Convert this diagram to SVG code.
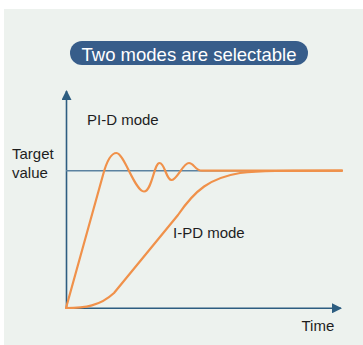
<svg xmlns="http://www.w3.org/2000/svg" width="363" height="345" viewBox="0 0 363 345">
<style>
.lbl{font-family:"Liberation Sans",Arial,sans-serif;font-size:15px;fill:#1e1e1e}
.curve{fill:none;stroke:#f0914a;stroke-width:2.2;stroke-linejoin:round;stroke-linecap:round}
.axis{fill:none;stroke:#2d5d80;stroke-width:1.6}
</style>
<defs>
<marker id="ah" markerWidth="10" markerHeight="10" refX="9" refY="5" orient="auto" markerUnits="userSpaceOnUse">
<path d="M0,0 L10,5 L0,10 Z" fill="#2d5d80"/>
</marker>
</defs>
<rect x="4" y="9" width="359" height="336" fill="#edf2ee"/>
<g id="title">
<rect x="70" y="41" width="238" height="24" rx="12" fill="#375d8a"/>
<text x="189" y="61" text-anchor="middle" style="font-family:'Liberation Sans',Arial,sans-serif;font-size:18.5px;fill:#ffffff">Two modes are selectable</text>
</g>
<g id="connectors">
<line class="axis" x1="66.5" y1="308" x2="66.5" y2="91" stroke="#4d7394" marker-end="url(#ah)"/>
<line class="axis" x1="66" y1="308.3" x2="341" y2="308.3" marker-end="url(#ah)"/>
<line x1="66" y1="170.7" x2="342" y2="170.7" stroke="#5b82a0" stroke-width="1.6"/>
</g>
<g id="pid-curve">
<path class="curve" d="M66,308 L103,175 C107,160 111,153 116.5,153 C124,153 135,191.5 144,191.5 C152,191.5 154,163 159.5,163 C165,163 166,180 171.5,180 C177,180 183,163 189,163 C194,163 195,170.7 202,170.7 L342,170.7"/>
</g>
<g id="ipd-curve">
<path class="curve" d="M66,308 C85,308 100,306 114,293 L178,215 C195,190 210,178 240,173 C260,170.8 280,170.7 342,170.7"/>
</g>
<g id="labels">
<text class="lbl" x="87" y="124.5">PI-D mode</text>
<text class="lbl" x="12" y="159">Target</text>
<text class="lbl" x="12" y="178">value</text>
<text class="lbl" x="173" y="237.5">I-PD mode</text>
<text class="lbl" x="301.5" y="331">Time</text>
</g>
</svg>
